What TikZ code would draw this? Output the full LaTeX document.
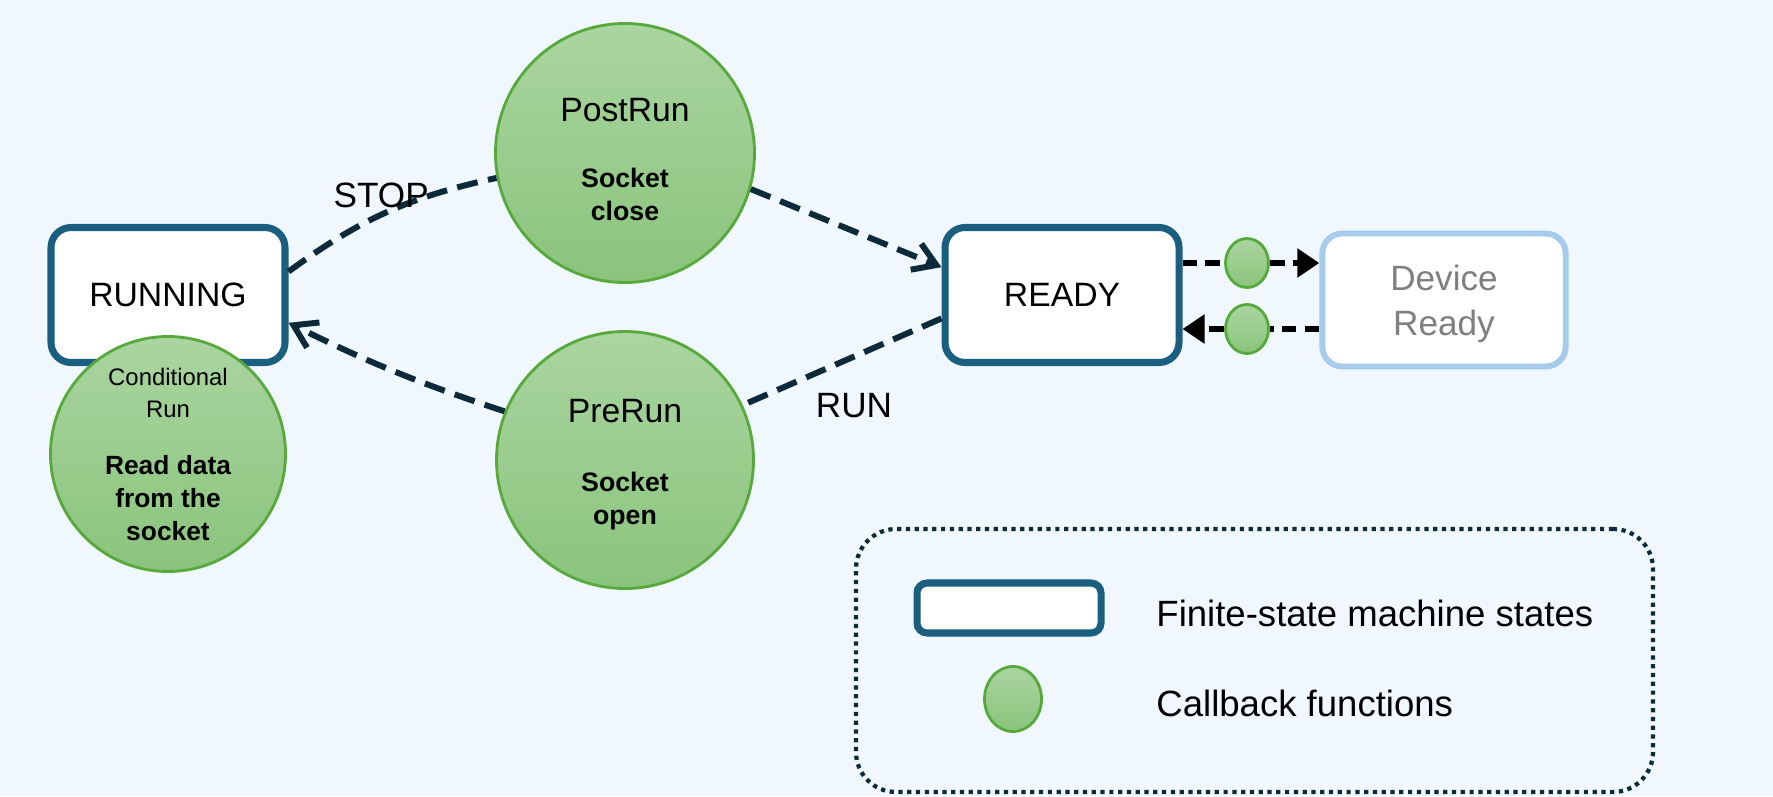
\documentclass[tikz,border=0pt]{standalone}
\usepackage{fontspec}
\setmainfont{Liberation Sans}
\usetikzlibrary{positioning,arrows.meta,shapes.geometric}

\definecolor{bgblue}{HTML}{F0F8FE}
\definecolor{statebd}{HTML}{1A5E80}
\definecolor{devbd}{HTML}{A7CBEB}
\definecolor{cbtop}{HTML}{AAD5A0}
\definecolor{cbbot}{HTML}{8AC47C}
\definecolor{cbedge}{HTML}{56A93A}
\definecolor{flow}{HTML}{0D2A3A}
\definecolor{devtext}{HTML}{7F7F7F}

\begin{document}
\begin{tikzpicture}[
	node distance=2.5cm,
	on grid,
	state/.style={
		rectangle,
		rounded corners=0.2cm,
		draw=statebd,
		line width=2pt,
		fill=white,
		minimum width=2.34cm,
		minimum height=1.35cm,
		font=\fontsize{9.6}{12}\selectfont
	},
	devstate/.style={
		state,
		draw=devbd,
		line width=1.7pt,
		minimum width=2.37cm,
		minimum height=1.33cm,
		text width=2.2cm,
		align=flush center,
		text=devtext,
		font=\fontsize{10}{12.8}\selectfont
	},
	cbfun/.style={
		circle,
		draw=cbedge,
		line width=0.8pt,
		top color=cbtop,
		bottom color=cbbot,
		text width=1.6cm,
		align=flush center,
		inner sep=-0.2cm
	},
	cbdot/.style={
		ellipse,
		draw=cbedge,
		line width=0.8pt,
		top color=cbtop,
		bottom color=cbbot,
		inner sep=0pt,
		minimum width=0.43cm,
		minimum height=0.49cm
	},
	flowline/.style={
		draw=flow,
		line width=1.7pt,
		dash pattern=on 6pt off 3pt
	},
	flowtip/.style={
		-{Straight Barb[length=2.2mm, width=2.8mm, line width=1.7pt]}
	},
	cbarrow/.style={
		draw=black,
		line width=1.7pt,
		dash pattern=on 4.2pt off 2.3pt
	},
	keytext/.style={
		anchor=west,
		font=\fontsize{10.4}{12.5}\selectfont
	}]

	\fill[bgblue] (0,0) rectangle (17.73,7.96);
	\useasboundingbox (0,0) rectangle (17.73,7.96);

	% states of the machine
	\node[state] (running) at (1.68,5.01) {RUNNING};
	\node[state, right=8.94cm of running] (ready) {READY};
	\node[devstate, right=3.82cm of ready, yshift=-0.05cm] (device) {\rule{0pt}{9.3pt}Device\\Ready};

	% callbacks
	\node[cbfun, minimum size=2.35cm, below=1.59cm of running] (condrun) {%
		{\fontsize{6.8}{9.2}\selectfont Conditional\\Run\par}
		\vspace{7pt}
		{\bfseries\fontsize{7.5}{9.3}\selectfont Read data\\from the\\socket\par}};
	\node[cbfun, minimum size=2.59cm, above right=1.42cm and 4.57cm of running] (postrun) {%
		{\fontsize{9.6}{11.5}\selectfont \rule{0pt}{10.3pt}PostRun\par}
		\vspace{9.6pt}
		{\bfseries\fontsize{7.6}{9.4}\selectfont Socket\\close\par}};
	\node[cbfun, minimum size=2.57cm, below=3.07cm of postrun] (prerun) {%
		{\fontsize{9.6}{11.5}\selectfont \rule{0pt}{9.2pt}PreRun\par}
		\vspace{10.4pt}
		{\bfseries\fontsize{7.6}{9.4}\selectfont Socket\\open\par}};
	\node[cbdot, above right=0.32cm and 1.85cm of ready] (cb_out) {};
	\node[cbdot, below=0.66cm of cb_out] (cb_in) {};

	\path[flowline]
		(running.11) edge[bend left=12] node[pos=0.45, xshift=0.04cm, yshift=0.21cm] {STOP} (postrun.191)
		(postrun.-16) edge[flowtip] (ready.167)
		(ready.191) edge node[pos=0.44, yshift=-0.49cm] {RUN} (prerun.25)
		(prerun.158) edge[bend left=4, flowtip] (running.-13);

	\draw[cbarrow] (ready.east |- cb_out) -- (cb_out.west);
	\draw[cbarrow, -{Triangle[length=2.2mm, width=2.8mm]}] (cb_out.east) -- (cb_out -| device.west);
	\draw[cbarrow] (device.west |- cb_in) -- (cb_in.east);
	\draw[cbarrow, -{Triangle[length=2.2mm, width=2.8mm]}] (cb_in.west) -- (cb_in -| ready.east);

	% legend
	\node[draw=flow, line width=1.2pt, dash pattern=on 1.2pt off 1.3pt, rounded corners=0.4cm,
		minimum width=7.97cm, minimum height=2.63cm] (legend) at (12.545,1.355) {};
	\node[state, rounded corners=0.1cm, minimum width=1.84cm, minimum height=0.5cm,
		above left=0.525cm and 2.455cm of legend] (keystate) {};
	\node[cbdot, minimum width=0.57cm, minimum height=0.65cm, below=0.91cm of keystate, xshift=0.04cm] (keycb) {};
	\node[keytext] (keystatetext) at ([xshift=1.35cm, yshift=-0.05cm]keystate.center) {Finite-state machine states};
	\node[keytext] (keycbtext) at ([xshift=1.31cm, yshift=-0.04cm]keycb.center) {Callback functions};
\end{tikzpicture}
\end{document}
